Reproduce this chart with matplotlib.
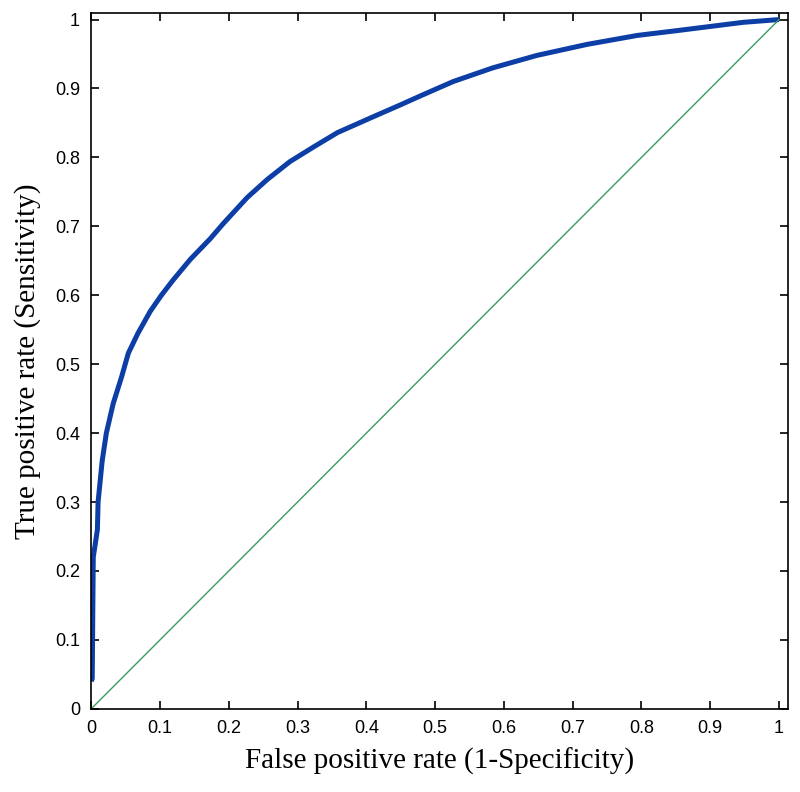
import numpy as np
import matplotlib
matplotlib.use("Agg")
import matplotlib.pyplot as plt

# Courbe ROC (taux de faux positifs, taux de vrais positifs)
fpr = [0.0, 0.0015, 0.003, 0.009, 0.010, 0.016, 0.022, 0.032, 0.044, 0.054,
       0.068, 0.086, 0.102, 0.119, 0.144, 0.173, 0.192, 0.227, 0.256, 0.289,
       0.323, 0.358, 0.410, 0.449, 0.478, 0.526, 0.584, 0.648, 0.721, 0.794,
       0.852, 0.900, 0.948, 1.000]
tpr = [0.04, 0.044, 0.22, 0.26, 0.30, 0.36, 0.40, 0.443, 0.481, 0.516,
       0.545, 0.577, 0.60, 0.622, 0.652, 0.682, 0.704, 0.742, 0.768, 0.794,
       0.815, 0.836, 0.859, 0.876, 0.889, 0.910, 0.930, 0.948, 0.964, 0.977,
       0.984, 0.990, 0.996, 1.000]

# Diagonale (classifieur aléatoire)
diag = [0.0, 1.0]

ticks = [0.0, 0.1, 0.2, 0.3, 0.4, 0.5, 0.6, 0.7, 0.8, 0.9, 1.0]
tick_labels = ['0', '0.1', '0.2', '0.3', '0.4', '0.5', '0.6', '0.7', '0.8', '0.9', '1']

fig = plt.figure(figsize=(8, 7.92), dpi=100)
ax = fig.add_axes([0.114, 0.105, 0.871, 0.879])

ax.plot(fpr, tpr, color='#0c3ea6', linewidth=3.6, solid_capstyle='butt',
        solid_joinstyle='round')
ax.plot(diag, diag, color='#3a9a5e', linewidth=1.0)

ax.set_xlim(0, 1.013)
ax.set_ylim(0, 1.01)
ax.set_xticks(ticks)
ax.set_yticks(ticks)
ax.set_xticklabels(tick_labels, fontfamily='Liberation Sans', fontsize=13)
ax.set_yticklabels(tick_labels, fontfamily='Liberation Sans', fontsize=13)
ax.tick_params(direction='in', length=6, width=1.2, top=True, right=True, pad=8)
for s in ax.spines.values():
    s.set_linewidth(1.2)

ax.set_xlabel('False positive rate (1-Specificity)', fontfamily='Liberation Serif',
              fontsize=21, labelpad=8)
ax.set_ylabel('True positive rate (Sensitivity)', fontfamily='Liberation Serif',
              fontsize=21, labelpad=10)

fig.savefig('out.png', dpi=100)
